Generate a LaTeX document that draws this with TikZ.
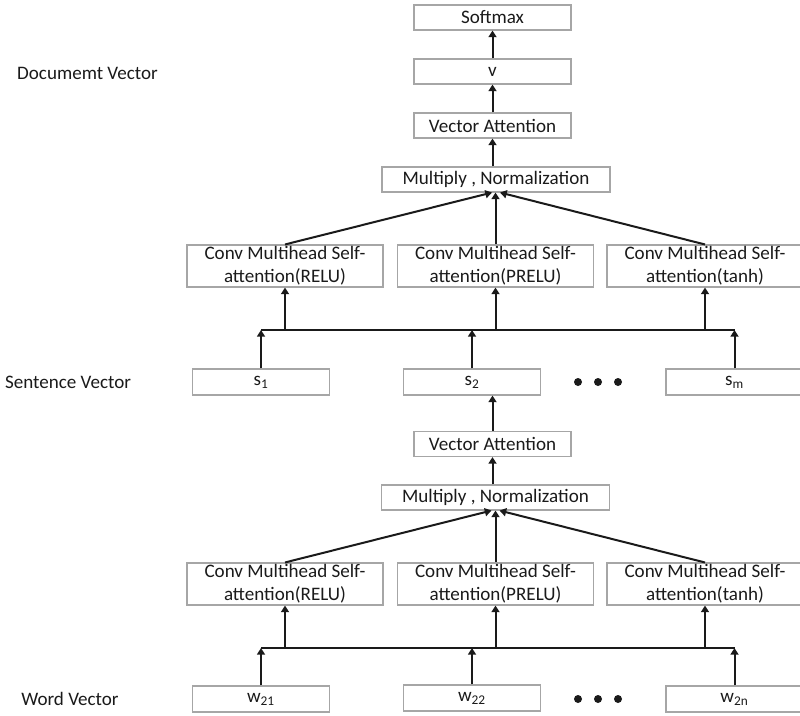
\documentclass[tikz,border=0pt]{standalone}
\usepackage{fontspec}
\setmainfont{Carlito}
\usetikzlibrary{arrows.meta,positioning}
\definecolor{gris}{HTML}{A6A6A6}
\definecolor{tinta}{HTML}{1A1A1A}
\tikzset{
  caja/.style={draw=gris,line width=0.8pt,inner sep=0pt,text=tinta,
               font=\fontsize{14.3}{17}\selectfont,minimum height=18.75pt},
  cajatop/.style={caja,minimum width=117.75pt},
  cajamul/.style={caja,minimum width=171pt},
  cajaconv/.style={caja,align=center,minimum width=147pt,minimum height=31.5pt},
  cajavec/.style={caja,minimum width=102.75pt,minimum height=19.5pt},
  etiqueta/.style={text=tinta,font=\fontsize{14.3}{17}\selectfont},
  flecha/.style={-{Triangle[length=5pt,width=6pt]},line width=1.5pt,tinta},
  bus/.style={line width=1.5pt,tinta}
}

\begin{document}
\begin{tikzpicture}[x=0.75pt,y=-0.75pt,line cap=butt]
        \useasboundingbox (0,0) rectangle (800,715);
        \node[etiqueta] (docl)  at (87.5,73) {Documemt Vector};
        \node[etiqueta] (senl)  at (68,382)  {Sentence Vector};
        \node[etiqueta] (wordl) at (70,699)  {Word Vector};
        \begin{scope}
          \node[cajatop] (soft)  at (492.5,17.5)  {Softmax};
          \node[cajatop] (vdoc)  at (492.5,71.5)  {v};
          \node[cajatop] (vatt2) at (492.5,125.5) {Vector Attention};
          \node[cajamul] (mult2) at (496,179.5)   {Multiply , Normalization};
          \node[cajaconv] (c21) at (285,266)   {Conv Multihead Self-\\attention(RELU)};
          \node[cajaconv] (c22) at (495.5,266) {Conv Multihead Self-\\attention(PRELU)};
          \node[cajaconv] (c23) at (705,266)   {Conv Multihead Self-\\attention(tanh)};
          \node[cajavec] (s1) at (261,382)   {s\textsubscript{1}};
          \node[cajavec] (s2) at (472,382)   {s\textsubscript{2}};
          \node[cajavec] (sm) at (734.5,382) {s\textsubscript{m}};
          \foreach \x in {578,598,618}
            \fill[tinta] (\x,382) circle (3pt);
          \coordinate (sbus) at (0,330);
          \draw[bus] (s1.north |- sbus) -- (sm.north |- sbus);
          \foreach \n in {s1,s2,sm}
            \draw[flecha] (\n.north) -- (\n.north |- sbus);
          \foreach \n in {c21,c22,c23}
            \draw[flecha] (\n.south |- sbus) -- (\n.south);
          \draw[flecha] (c21.north) -- ([xshift=-3pt]mult2.south);
          \draw[flecha] (c22.north) -- (c22.north |- mult2.south);
          \draw[flecha] (c23.north) -- ([xshift=3pt]mult2.south);
          \draw[flecha] (vatt2.south |- mult2.north) -- (vatt2.south);
          \draw[flecha] (vatt2.north) -- (vdoc.south);
          \draw[flecha] (vdoc.north) -- (soft.south);
        \end{scope}
        \begin{scope}
          \node[cajatop] (vatt1) at (492.5,444)  {Vector Attention};
          \node[cajamul] (mult1) at (495.5,497.5) {Multiply , Normalization};
          \node[cajaconv] (c11) at (285,584)   {Conv Multihead Self-\\attention(RELU)};
          \node[cajaconv] (c12) at (495.5,584) {Conv Multihead Self-\\attention(PRELU)};
          \node[cajaconv] (c13) at (705,584)   {Conv Multihead Self-\\attention(tanh)};
          \node[cajavec] (w21) at (261,699)   {w\textsubscript{21}};
          \node[cajavec] (w22) at (472,698)   {w\textsubscript{22}};
          \node[cajavec] (w2n) at (734.5,699) {w\textsubscript{2n}};
          \foreach \x in {578,598,618}
            \fill[tinta] (\x,699) circle (3pt);
          \coordinate (wbus) at (0,648);
          \draw[bus] (w21.north |- wbus) -- (w2n.north |- wbus);
          \foreach \n in {w21,w22,w2n}
            \draw[flecha] (\n.north) -- (\n.north |- wbus);
          \foreach \n in {c11,c12,c13}
            \draw[flecha] (\n.south |- wbus) -- (\n.south);
          \draw[flecha] (c11.north) -- ([xshift=-3pt]mult1.south);
          \draw[flecha] (c12.north) -- (c12.north |- mult1.south);
          \draw[flecha] (c13.north) -- ([xshift=3pt]mult1.south);
          \draw[flecha] (vatt1.south |- mult1.north) -- (vatt1.south);
          \draw[flecha] (vatt1.north) -- (vatt1.north |- s2.south);
        \end{scope}
      \end{tikzpicture}
\end{document}
